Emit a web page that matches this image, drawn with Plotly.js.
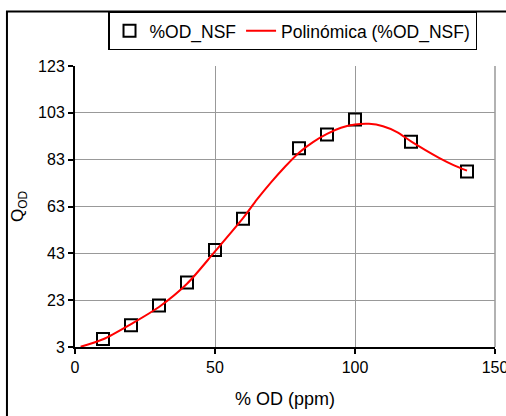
<!DOCTYPE html>
<html>
<head>
<meta charset="utf-8">
<script src="https://cdn.plot.ly/plotly-3.0.1.min.js"></script>
<style>
html,body{margin:0;padding:0;background:#fff;}
#chart{width:506px;height:416px;}
</style>
</head>
<body>
<div id="chart"></div>
<script>
// Measured points
const odX = [10, 20, 30, 40, 50, 60, 80, 90, 100, 120, 140];
const odY = [6.4, 12.3, 20.7, 30.5, 44.4, 57.8, 87.9, 93.7, 100.2, 90.6, 78];

// Polynomial trendline
const fitX = [2, 10, 20, 30, 40, 50, 60, 65, 70, 75, 80, 85, 90, 95, 100, 105, 110, 115, 120, 125, 130, 135, 140];
const fitY = [3.1, 6.3, 12.8, 20.1, 30, 43.8, 58, 66, 73.3, 80, 86, 90.5, 94, 96.6, 98, 98.3, 97.3, 94.8, 90.8, 87.2, 83.8, 80.8, 78.3];

const xTicks = [0, 50, 100, 150];
const yTicks = [3, 23, 43, 63, 83, 103, 123];

const traces = [
  {
    x: odX, y: odY, type: 'scatter', mode: 'markers', name: '%OD_NSF',
    marker: {symbol: 'square-open', size: 12, color: '#000', line: {width: 2, color: '#000'}},
    cliponaxis: false
  },
  {
    x: fitX, y: fitY, type: 'scatter', mode: 'lines', name: 'Polinómica (%OD_NSF)',
    line: {color: '#ff0000', width: 2, shape: 'spline', smoothing: 0.8}
  }
];

const fam = 'Liberation Sans, Arial, sans-serif';

const layout = {
  width: 506, height: 416,
  margin: {l: 75, r: 11, t: 64, b: 69},
  paper_bgcolor: '#fff', plot_bgcolor: '#fff',
  font: {family: fam, size: 16, color: '#000'},
  showlegend: true,
  legend: {
    orientation: 'h', x: 0.0786, xanchor: 'left', y: 1.194, yanchor: 'top',
    bordercolor: '#000', borderwidth: 1.5, bgcolor: '#fff',
    font: {family: fam, size: 17.5, color: '#000'},
    tracegroupgap: 0
  },
  xaxis: {
    range: [0, 150], tickvals: xTicks, ticktext: xTicks.map(String),
    tickfont: {family: fam, size: 16, color: '#000'},
    ticklabeloverflow: 'allow',
    showgrid: true, gridcolor: '#999', gridwidth: 1,
    showline: true, linecolor: '#000', linewidth: 2,
    ticks: 'outside', ticklen: 5, tickwidth: 2, tickcolor: '#000',
    zeroline: false,
    title: {text: '% OD (ppm)', font: {family: fam, size: 18, color: '#000'}, standoff: 17},
    automargin: false
  },
  yaxis: {
    range: [3, 123], tickvals: yTicks, ticktext: yTicks.map(String),
    tickfont: {family: fam, size: 16, color: '#000'},
    showgrid: true, gridcolor: '#999', gridwidth: 1,
    showline: true, linecolor: '#000', linewidth: 2,
    ticks: 'outside', ticklen: 5, tickwidth: 2, tickcolor: '#000',
    zeroline: false,
    title: {text: 'Q<sub>OD</sub>', font: {family: fam, size: 17, color: '#000'}, standoff: 10},
    automargin: false
  },
  shapes: [
    {type: 'line', xref: 'paper', yref: 'paper', x0: 1, x1: 1, y0: 0, y1: 1, line: {color: '#999', width: 1.5}, layer: 'below'},
    {type: 'rect', xref: 'paper', yref: 'paper', x0: -0.162, x1: 1.2, y0: -0.4, y1: 1.194, line: {color: '#000', width: 2}, fillcolor: 'rgba(0,0,0,0)', layer: 'above'}
  ]
};

Plotly.newPlot('chart', traces, layout, {displayModeBar: false, staticPlot: true});
</script>
</body>
</html>
